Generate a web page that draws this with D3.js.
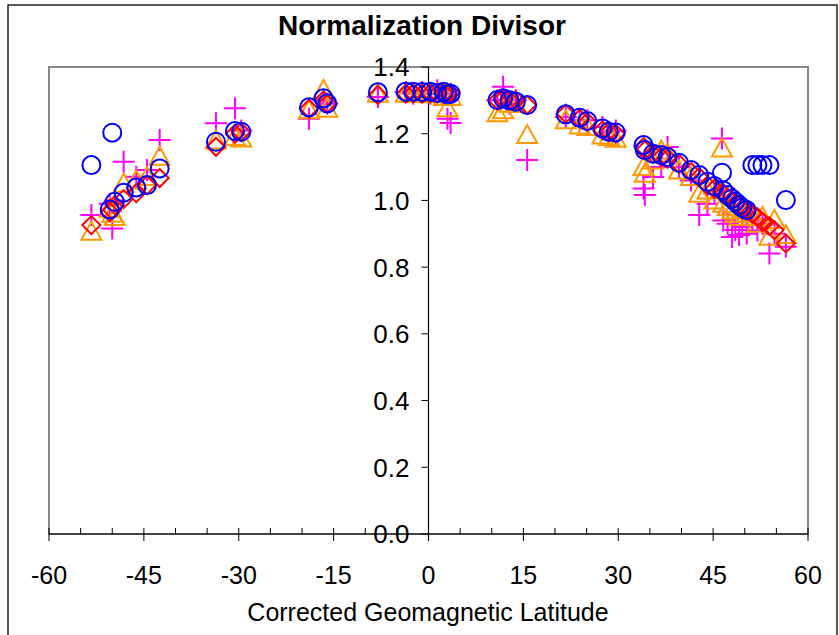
<!DOCTYPE html>
<html>
<head>
<meta charset="utf-8">
<script src="https://cdn.jsdelivr.net/npm/d3@7"></script>
<style>
  body { margin: 0; background: #fff; }
  text { font-family: "Liberation Sans", Arial, sans-serif; }
</style>
</head>
<body>
<svg id="chart" width="839" height="635"></svg>
<script>
var width = 839,
    height = 635;

// Station latitudes (corrected geomagnetic) and the four divisor series
const latitudes = [-53.3, -50.0, -50.4, -49.6, -48.2, -46.2, -44.5, -42.5, -33.6, -30.6, -29.6,
    -18.9, -16.6, -16.0, -8.0, -3.6, -2.4, -1.0, 0.3, 1.4, 2.4, 3.0, 3.5,
    10.9, 11.8, 12.8, 13.8, 15.6, 21.7, 23.9, 25.1, 27.5, 28.5, 29.6,
    34.0, 34.2, 35.5, 36.8, 37.8, 39.6, 41.5, 42.8, 44.1, 45.2, 46.4, 46.6, 47.3, 48.0, 48.5,
    49.1, 49.6, 50.3, 51.2, 52.0, 52.8, 53.9, 54.7, 56.5];
const circles = [1.106, 1.203, 0.973, 0.996, 1.023, 1.039, 1.046, 1.096, 1.176, 1.208, 1.206,
    1.279, 1.306, 1.291, 1.324, 1.326, 1.326, 1.325, 1.326, 1.322, 1.326, 1.318, 1.320,
    1.301, 1.306, 1.300, 1.296, 1.286, 1.258, 1.248, 1.238, 1.216, 1.206, 1.204,
    1.166, 1.151, 1.140, 1.136, 1.130, 1.113, 1.091, 1.076, 1.056, 1.043, 1.083, 1.030, 1.016, 1.005, 0.996,
    0.986, 0.978, 0.971, 1.106, 1.106, 1.106, 1.106, null, 1.001];
const diamonds = [0.926, 0.971, 0.965, 0.986, 1.004, 1.022, 1.046, 1.067, 1.161, 1.200, 1.205,
    1.275, 1.300, 1.290, 1.316, 1.320, 1.322, 1.320, 1.322, 1.320, 1.321, 1.320, 1.322,
    1.300, 1.305, 1.300, 1.300, 1.286, 1.260, 1.245, 1.235, 1.210, 1.205, 1.200,
    1.160, 1.150, 1.140, 1.130, 1.125, 1.110, 1.085, 1.070, 1.045, 1.035, 1.025, 1.020, 1.010, 1.000, 0.990,
    0.985, 0.975, 0.970, 0.960, 0.950, 0.936, 0.923, 0.911, 0.871];
const triangles = [0.906, 0.960, 0.975, 0.950, 1.050, 1.060, 1.070, 1.131, 1.180, 1.190, 1.186,
    1.270, 1.331, 1.275, 1.320, 1.320, 1.320, 1.320, 1.318, 1.320, 1.310, 1.276, 1.310,
    1.261, 1.270, 1.290, 1.290, 1.196, 1.240, 1.225, 1.220, 1.195, 1.190, 1.185,
    1.100, 1.080, 1.120, 1.150, 1.140, 1.090, 1.070, 1.020, 1.030, 1.000, 1.156, 0.990, 0.980, 0.970, 0.960,
    0.950, 0.975, 0.960, 0.950, 0.930, 0.950, 0.891, 0.941, 0.896];
const pluses = [0.956, 0.916, 0.990, 1.000, 1.116, 1.071, 1.091, 1.181, 1.231, 1.276, 1.210,
    1.245, 1.300, 1.290, 1.310, 1.325, 1.320, 1.325, 1.320, 1.330, 1.320, 1.245, 1.232,
    1.300, 1.341, 1.290, 1.300, 1.121, 1.250, 1.240, 1.240, 1.220, 1.205, 1.210,
    1.036, 1.016, 1.070, 1.100, 1.160, 1.100, 1.060, 0.956, 0.990, 1.020, 1.186, 0.940, 0.930, 0.890, 0.911,
    0.896, 0.920, 0.900, 0.940, 0.910, 0.930, 0.841, 0.900, 0.861];

const xTicks = [-60, -45, -30, -15, 0, 15, 30, 45, 60];
const yTicks = [0, 0.2, 0.4, 0.6, 0.8, 1.0, 1.2, 1.4];

var svg = d3.select("#chart");

var x = d3.scaleLinear().domain([-60, 60]).range([49, 808]);
var y = d3.scaleLinear().domain([0, 1.4]).range([534, 67]);

// Outer chart border
svg.append("rect")
    .attr("x", 8).attr("y", 5)
    .attr("width", 829).attr("height", 640)
    .attr("fill", "none").attr("stroke", "#000").attr("stroke-width", 1.3);

// Plot area frame
svg.append("rect")
    .attr("x", 49).attr("y", 67)
    .attr("width", 808 - 49).attr("height", 534 - 67)
    .attr("fill", "none").attr("stroke", "#888").attr("stroke-width", 2);

// Title
svg.append("text")
    .attr("x", 422).attr("y", 35)
    .attr("text-anchor", "middle")
    .attr("font-size", 28).attr("font-weight", "bold")
    .text("Normalization Divisor");

// X axis: major ticks cross the line, minor ticks above it
var xAxis = svg.append("g").attr("transform", "translate(0," + y(0) + ")");
xAxis.append("line")
    .attr("x1", x(-60)).attr("x2", x(60))
    .attr("stroke", "#000").attr("stroke-width", 1.2);
xAxis.selectAll(".minor")
    .data(d3.range(-60, 61, 5))
    .join("line")
    .attr("x1", function (d) { return x(d); })
    .attr("x2", function (d) { return x(d); })
    .attr("y1", -6).attr("y2", function (d) { return d % 15 == 0 ? 7 : 0; })
    .attr("stroke", "#000").attr("stroke-width", 1);
xAxis.selectAll("text")
    .data(xTicks)
    .join("text")
    .attr("x", function (d) { return x(d); })
    .attr("y", 50)
    .attr("text-anchor", "middle")
    .attr("font-size", 25)
    .text(function (d) { return d; });

svg.append("text")
    .attr("x", 428).attr("y", 621)
    .attr("text-anchor", "middle")
    .attr("font-size", 25)
    .text("Corrected Geomagnetic Latitude");

// Y axis sits at latitude 0
var yAxis = svg.append("g").attr("transform", "translate(" + x(0) + ",0)");
yAxis.append("line")
    .attr("y1", y(1.4)).attr("y2", y(0) + 7)
    .attr("stroke", "#000").attr("stroke-width", 1.2);
yAxis.selectAll("line.tick")
    .data(yTicks)
    .join("line")
    .attr("class", "tick")
    .attr("x1", -7).attr("x2", 0)
    .attr("y1", function (d) { return y(d); })
    .attr("y2", function (d) { return y(d); })
    .attr("stroke", "#000");
yAxis.selectAll("text")
    .data(yTicks)
    .join("text")
    .attr("x", -19)
    .attr("y", function (d) { return y(d); })
    .attr("dy", "0.36em")
    .attr("text-anchor", "end")
    .attr("font-size", 26)
    .text(function (d) { return d.toFixed(1); });

function seriesPoints(values) {
    var pts = [];
    for (var i = 0; i < latitudes.length; i++) {
        if (values[i] != null) pts.push({ lat: latitudes[i], v: values[i] });
    }
    return pts;
}

var marks = svg.append("g").attr("fill", "none").attr("stroke-width", 2);

// Magenta plus
marks.selectAll("path.plus")
    .data(seriesPoints(pluses))
    .join("path")
    .attr("class", "plus")
    .attr("d", function (d) {
        var cx = x(d.lat), cy = y(d.v);
        return "M" + (cx - 11) + "," + cy + "H" + (cx + 11) + "M" + cx + "," + (cy - 11) + "V" + (cy + 11);
    })
    .attr("stroke", "#ff00ff");

// Orange triangles
marks.selectAll("path.tri")
    .data(seriesPoints(triangles))
    .join("path")
    .attr("class", "tri")
    .attr("d", function (d) {
        var cx = x(d.lat), cy = y(d.v);
        return "M" + cx + "," + (cy - 10) + "L" + (cx + 10) + "," + (cy + 8) + "L" + (cx - 10) + "," + (cy + 8) + "Z";
    })
    .attr("stroke", "#ff9900");

// Red diamonds
marks.selectAll("path.dia")
    .data(seriesPoints(diamonds))
    .join("path")
    .attr("class", "dia")
    .attr("d", function (d) {
        var cx = x(d.lat), cy = y(d.v);
        return "M" + cx + "," + (cy - 9) + "L" + (cx + 9) + "," + cy + "L" + cx + "," + (cy + 9) + "L" + (cx - 9) + "," + cy + "Z";
    })
    .attr("stroke", "#ff0000");

// Blue circles
marks.selectAll("circle")
    .data(seriesPoints(circles))
    .join("circle")
    .attr("cx", function (d) { return x(d.lat); })
    .attr("cy", function (d) { return y(d.v); })
    .attr("r", 9)
    .attr("stroke", "#0000ff");
</script>
</body>
</html>
